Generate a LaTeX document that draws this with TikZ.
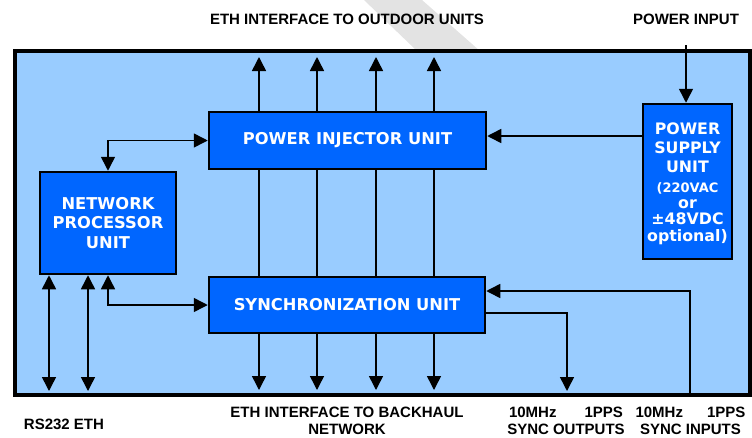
\documentclass[tikz,border=0pt]{standalone}
\usepackage{fontspec}
\setmainfont{DejaVu Sans}
\newfontfamily\labelfont{Liberation Sans}
\usetikzlibrary{arrows.meta}

\definecolor{framefill}{HTML}{99CCFF}
\definecolor{unitblue}{HTML}{0066FF}
\definecolor{bandgrey}{HTML}{E3E3E3}

\begin{document}
\begin{tikzpicture}[x=1pt,y=-1pt,
    unit/.style={draw=black, line width=2.5pt, fill=unitblue, text=white, align=center,
      inner sep=0pt, font=\fontsize{16.3}{19.5}\selectfont\bfseries},
    link/.style={line width=1.5pt},
    arr/.style={link, -{Triangle[length=14pt,width=14pt]}},
    darr/.style={link, {Triangle[length=14pt,width=14pt]}-{Triangle[length=14pt,width=14pt]}},
    lbl/.style={align=center, font=\labelfont\fontsize{15}{16.5}\selectfont\bfseries}]
  \useasboundingbox (0,0) rectangle (752,437);

  % grey band behind the frame
  \fill[bandgrey] (364,0) -- (422,0) -- (480,51) -- (417,51) -- cycle;

  % outer frame
  \draw[line width=4.5pt, fill=framefill] (15,51) rectangle (750,395);

  % units
  \node[unit, minimum width=277, minimum height=57] (piu) at (347.5,140.5) {POWER INJECTOR UNIT};
  \node[unit, minimum width=276, minimum height=56] (su) at (347,305) {SYNCHRONIZATION UNIT};
  \node[unit, minimum width=136, minimum height=102] (npu) at (108,223) {NETWORK\\PROCESSOR\\UNIT};
  \node[unit, minimum width=89, minimum height=155, font=\fontsize{15.8}{19.3}\selectfont\bfseries]
    (psu) at (687.5,181.5) {};
  \node[text=white, align=center, inner sep=0pt, font=\fontsize{15.8}{19.3}\selectfont\bfseries]
    (psutext) at (687.5,183.5)
    {POWER\\SUPPLY\\UNIT\\\fontsize{13}{16.5}\selectfont (220VAC\\[-3pt]or\\[-3pt]±48VDC\\[-3pt]optional)};

  % ethernet ports up and down
  \foreach \x [count=\i] in {259,317,376,434} {
    \coordinate (up\i) at (\x,57);
    \coordinate (dn\i) at (\x,390);
    \draw[arr] (piu.north -| up\i) -- (up\i);
    \draw[link] (piu.south -| up\i) -- (su.north -| up\i);
    \draw[arr] (su.south -| dn\i) -- (dn\i);
  }

  % power
  \coordinate (pin) at (686,45);
  \draw[arr] (pin) -- (pin |- psu.north);
  \draw[arr] (psu.west |- 0,136) -- (piu.east |- 0,136);

  % network processor links
  \draw[darr] (piu.west) -| (npu.north);
  \draw[darr] (npu.south) |- (su.west);
  \coordinate (rs) at (49,391);
  \coordinate (eth) at (88,391);
  \draw[darr] (npu.south -| rs) -- (rs);
  \draw[darr] (npu.south -| eth) -- (eth);

  % sync in and out
  \coordinate (so) at (567,391);
  \coordinate (si) at (690,395);
  \draw[arr] ([yshift=-8pt]su.east) -| (so);
  \draw[arr] (si) |- ([yshift=14pt]su.east);

  % labels
  \node[lbl] (toplbl) at (347,19) {ETH INTERFACE TO OUTDOOR UNITS};
  \node[lbl] (pwrlbl) at (686,19) {POWER INPUT};
  \node[lbl] (rslbl) at (64,424) {RS232 ETH};
  \node[lbl] (bhlbl) at (347,421) {ETH INTERFACE TO BACKHAUL\\NETWORK};
  \node[lbl] (solbl) at (566,421) {\makebox[114pt]{10MHz\hfill 1PPS}\\SYNC OUTPUTS};
  \node[lbl] (silbl) at (690.5,421) {\makebox[110pt]{10MHz\hfill 1PPS}\\SYNC INPUTS};
\end{tikzpicture}
\end{document}
